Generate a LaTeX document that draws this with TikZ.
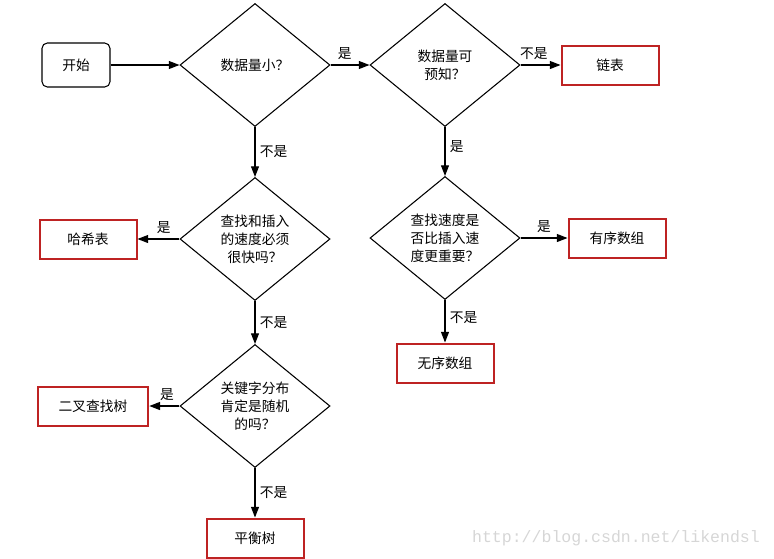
\documentclass[tikz,border=0pt]{standalone}
\usepackage{fontspec}
\newfontfamily\cjk{Noto Sans CJK SC}
\newfontfamily\urlfont{Liberation Mono}
\usetikzlibrary{arrows.meta,shapes.geometric}
\definecolor{boxred}{RGB}{190,35,35}
\tikzset{font=\cjk\fontsize{10.3}{13.5}\selectfont}
\tikzstyle{decide}=[diamond,draw,line width=0.8pt,aspect=1.22,minimum width=112.5pt,minimum height=92.25pt,inner sep=0pt,align=center]
\tikzstyle{result}=[rectangle,draw=boxred,line width=1.5pt,minimum width=72.75pt,minimum height=29.25pt,inner sep=0pt]
\tikzstyle{startbox}=[rectangle,rounded corners=4pt,draw,line width=0.8pt,minimum width=51pt,minimum height=33pt]

\begin{document}
\begin{tikzpicture}[x=0.75pt,y=-0.75pt]
\useasboundingbox (0,0) rectangle (774,558);
\node[startbox] (start) at (76,65) {开始};
\node[decide] (small) at (255,65) {数据量小？};
\node[decide] (known) at (445,65) {数据量可\\预知？};
\node[result] (list) at (610,65) {链表};
\node[decide] (fast) at (255,239) {查找和插入\\的速度必须\\很快吗？};
\node[result] (hash) at (88,239) {哈希表};
\node[decide] (prior) at (445,238) {查找速度是\\否比插入速\\度更重要？};
\node[result] (sorted) at (617,238) {有序数组};
\node[result] (unsorted) at (445,363) {无序数组};
\node[decide] (random) at (255,406) {关键字分布\\肯定是随机\\的吗？};
\node[result,minimum width=83pt] (bst) at (93,406) {二叉查找树};
\node[result] (avl) at (255,538) {平衡树};
\node[text=black!16,font=\urlfont\fontsize{12.4}{14}\selectfont] (url) at (616,538) {http://blog.csdn.net/likendsl};
\path[->,line width=0.8pt,>={Triangle[length=8pt,width=6pt]}]
(start) edge (small)
(small) edge node [above,xshift=-4pt] {是} (known)
(known) edge node [above,xshift=-5pt] {不是} (list)
(small) edge node [right] {不是} (fast)
(known) edge node [right,yshift=4pt] {是} (prior)
(fast) edge node [above,xshift=4pt] {是} (hash)
(fast) edge node [right] {不是} (random)
(prior) edge node [above] {是} (sorted)
(prior) edge node [right,yshift=3pt] {不是} (unsorted)
(random) edge node [above,xshift=2pt] {是} (bst)
(random) edge node [right] {不是} (avl);
\end{tikzpicture}
\end{document}
